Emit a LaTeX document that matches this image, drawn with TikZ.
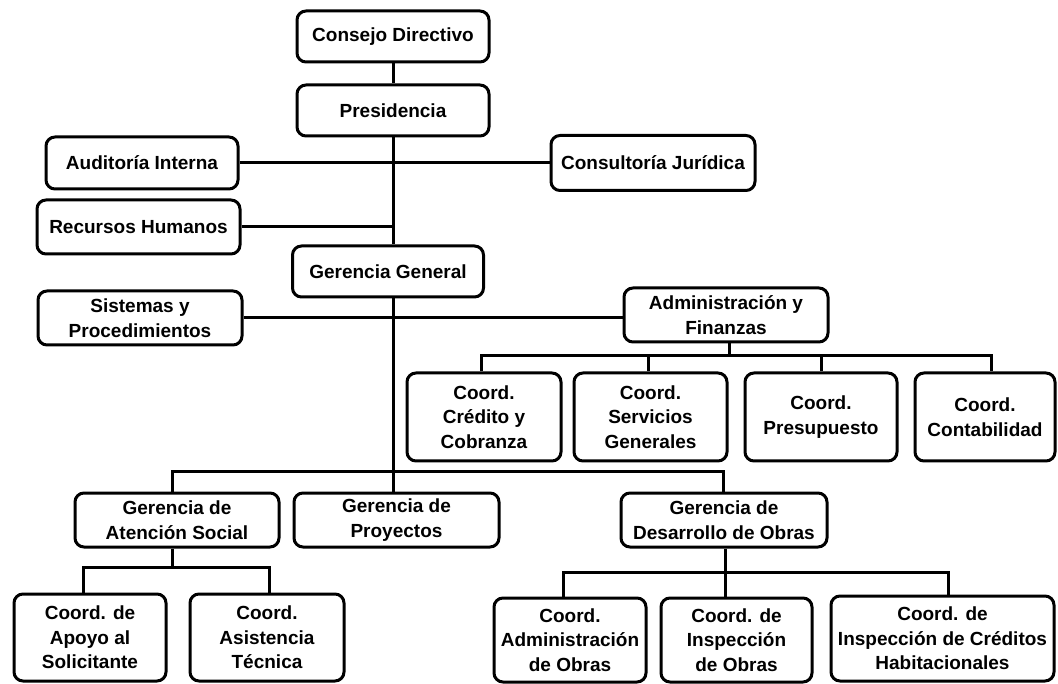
\documentclass[tikz,border=0pt]{standalone}
\usepackage{fontspec}
\setmainfont{Liberation Sans}
\begin{document}
\begin{tikzpicture}[x=1pt,y=-1pt,
  unit/.style={draw=black, line width=3pt, fill=white, rounded corners=9pt,
    align=center, inner sep=0pt, text=black,
    font=\fontsize{19}{24.5}\selectfont\bfseries},
  link/.style={draw=black, line width=3pt}]
% canvas
\fill[white] (0,0) rectangle (1058,684);
\useasboundingbox (0,0) rectangle (1058,684);

% top of the hierarchy
\node[unit, minimum width=192, minimum height=51] (consejo) at (393,36.5) {Consejo Directivo};
\node[unit, minimum width=192, minimum height=51] (presid) at (393,110.5) {Presidencia};
\node[unit, minimum width=192, minimum height=52] (audit) at (142,163) {Auditoría Interna};
\node[unit, minimum width=204, minimum height=55] (juridica) at (653,163) {Consultoría Jurídica};
\node[unit, minimum width=203, minimum height=54] (rrhh) at (138.5,227) {Recursos Humanos};
\node[unit, minimum width=191, minimum height=51] (gerencia) at (388,271.5) {Gerencia General};
\node[unit, minimum width=204, minimum height=54] (sistemas) at (140,318) {Sistemas y\\Procedimientos};
\node[unit, minimum width=204, minimum height=54] (finanzas) at (726,315) {Administración y\\Finanzas};

% finance coordinations
\node[unit, minimum width=154, minimum height=88] (credito) at (484,417) {Coord.\\Crédito y\\Cobranza};
\node[unit, minimum width=153, minimum height=88] (servicios) at (650.5,417) {Coord.\\Servicios\\Generales};
\node[unit, minimum width=152, minimum height=88] (presupuesto) at (821,417) {Coord.\\Presupuesto};
\node[unit, minimum width=140, minimum height=88] (contab) at (985,417) {Coord.\\Contabilidad};

% managements
\node[unit, minimum width=204, minimum height=54] (social) at (177,520) {Gerencia de\\Atención Social};
\node[unit, minimum width=205, minimum height=54] (proyectos) at (396.5,520) {Gerencia de\\Proyectos};
\node[unit, minimum width=206, minimum height=54] (obras) at (724,520) {Gerencia de\\Desarrollo de Obras};

% lower coordinations
\node[unit, minimum width=152, minimum height=87] (apoyo) at (90,637.5) {Coord. de\\Apoyo al\\Solicitante};
\node[unit, minimum width=154, minimum height=87] (asistencia) at (267,637.5) {Coord.\\Asistencia\\Técnica};
\node[unit, minimum width=152, minimum height=84] (admobras) at (570,640) {Coord.\\Administración\\de Obras};
\node[unit, minimum width=151, minimum height=84] (inspeccion) at (736.5,640) {Coord. de\\Inspección\\de Obras};
\node[unit, minimum width=223, minimum height=85] (habit) at (942.5,638.5) {Coord. de\\Inspección de Créditos\\Habitacionales};

% junctions of the buses
\coordinate (gbus) at (393,472);
\coordinate (fbus) at (729,356);
\coordinate (sbus) at (172,567);
\coordinate (obus) at (725,572);

% main trunk and staff units
\draw[link] (consejo.south) -- (presid.north);
\draw[link] (presid.south) -- (presid.south |- gerencia.north);
\draw[link] (audit.east) -- (juridica.west);
\draw[link] (rrhh.east) -- (rrhh.east -| presid.south);
\draw[link] (sistemas.east) -- (sistemas.east -| finanzas.west);
\draw[link] (gerencia.south -| presid.south) -- (proyectos.north -| presid.south);

% finance bus
\draw[link] (finanzas.south -| fbus) -- (fbus);
\draw[link] ([xshift=-3pt]credito.north) |- (fbus) -| ([xshift=6pt]contab.north);
\draw[link] ([xshift=-2.5pt]servicios.north) |- (fbus);
\draw[link] (presupuesto.north) -- (presupuesto.north |- fbus);

% managements bus
\draw[link] ([xshift=-5pt]social.north) |- (gbus) -| ([xshift=-1pt]obras.north);

% social bus
\draw[link] ([xshift=-5pt]social.south) -- (sbus);
\draw[link] ([xshift=-7pt]apoyo.north) |- (sbus) -| ([xshift=2pt]asistencia.north);

% works bus
\draw[link] ([xshift=1pt]obras.south) -- (obus);
\draw[link] ([xshift=-7pt]admobras.north) |- (obus) -| ([xshift=5.5pt]habit.north);
\draw[link] (inspeccion.north -| obus) -- (obus);
\end{tikzpicture}
\end{document}
